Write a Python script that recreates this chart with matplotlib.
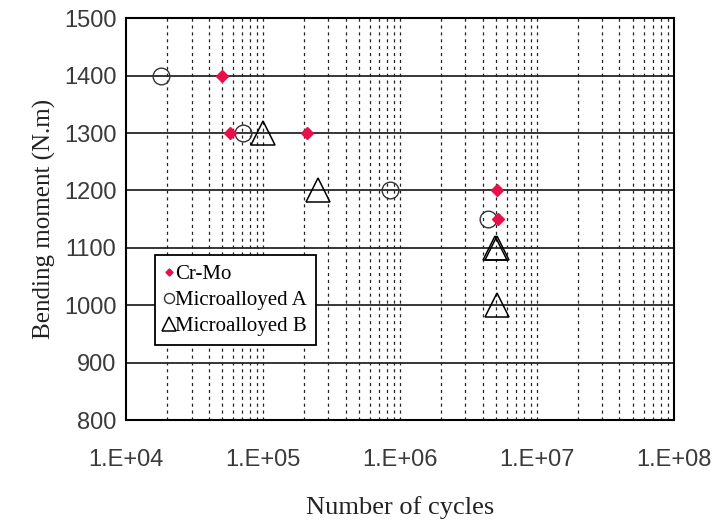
import matplotlib.pyplot as plt
from matplotlib.ticker import LogLocator, FixedLocator

# data
crmo_cycles = [5.0e4, 5.7e4, 2.1e5, 5.1e6, 5.2e6]
crmo_moment = [1400, 1300, 1300, 1200, 1150]

microA_cycles = [1.8e4, 7.1e4, 8.5e5, 4.4e6]
microA_moment = [1400, 1300, 1200, 1150]

microB_cycles = [1.0e5, 2.5e5, 4.9e6, 5.1e6, 5.1e6]
microB_moment = [1300, 1200, 1100, 1100, 1000]

x_ticks = [1e4, 1e5, 1e6, 1e7, 1e8]
x_tick_labels = ["1.E+04", "1.E+05", "1.E+06", "1.E+07", "1.E+08"]
y_ticks = [800, 900, 1000, 1100, 1200, 1300, 1400, 1500]

serif = "Liberation Serif"
sans = "Liberation Sans"

fig = plt.figure(figsize=(7.17, 5.2), dpi=100)
ax = fig.add_axes([0.176, 0.192, 0.764, 0.773])

ax.set_xscale("log")
ax.set_xlim(1e4, 1e8)
ax.set_ylim(800, 1500)

# grid: solid horizontal, dashed vertical at every decade subdivision
for y in y_ticks[1:-1]:
    ax.axhline(y, color="black", lw=1.1, zorder=1)
vlines = [m * 10 ** e for e in range(4, 8) for m in range(1, 10)][1:]
for x in vlines:
    ax.axvline(x, color="#222222", lw=0.9, ls=(0, (2.5, 3)), zorder=1)

ax.plot(crmo_cycles, crmo_moment, ls="none", marker="D", ms=6,
        mfc="#e8104a", mec="#e8104a", label="Cr-Mo", zorder=4)
ax.plot(microA_cycles, microA_moment, ls="none", marker="o", ms=12,
        mfc="none", mec="#333333", mew=1.0, label="Microalloyed A", zorder=3)
ax.plot(microB_cycles, microB_moment, ls="none", marker="^", ms=17,
        mfc="none", mec="black", mew=1.1, label="Microalloyed B", zorder=3)

ax.xaxis.set_major_locator(FixedLocator(x_ticks))
ax.xaxis.set_minor_locator(LogLocator(base=10, subs=[]))
ax.set_xticks(x_ticks)
ax.set_xticklabels(x_tick_labels, fontfamily=sans, fontsize=17, color="#3a3a3a")
ax.set_yticks(y_ticks)
ax.set_yticklabels([str(v) for v in y_ticks], fontfamily=sans, fontsize=17, color="#3a3a3a")
ax.tick_params(axis="x", which="both", length=0, pad=21)
ax.tick_params(axis="y", length=0, pad=7)

for s in ax.spines.values():
    s.set_linewidth(1.5)
    s.set_color("black")

ax.set_xlabel("Number of cycles", fontfamily=serif, fontsize=19, labelpad=18, color="#222222")
ax.set_ylabel("Bending moment (N.m)", fontfamily=serif, fontsize=18, labelpad=6, color="#222222")

handles, labels = ax.get_legend_handles_labels()
leg = ax.legend(handles, labels, loc="upper left", bbox_to_anchor=(0.053, 0.41),
                prop={"family": serif, "size": 15}, frameon=True, fancybox=False,
                edgecolor="black", framealpha=1, handlelength=0.4, handletextpad=0.1,
                borderpad=0.45, labelspacing=0.3, markerscale=0.6, borderaxespad=0)
leg.get_frame().set_linewidth(1.3)

fig.savefig("out.png", dpi=100)
